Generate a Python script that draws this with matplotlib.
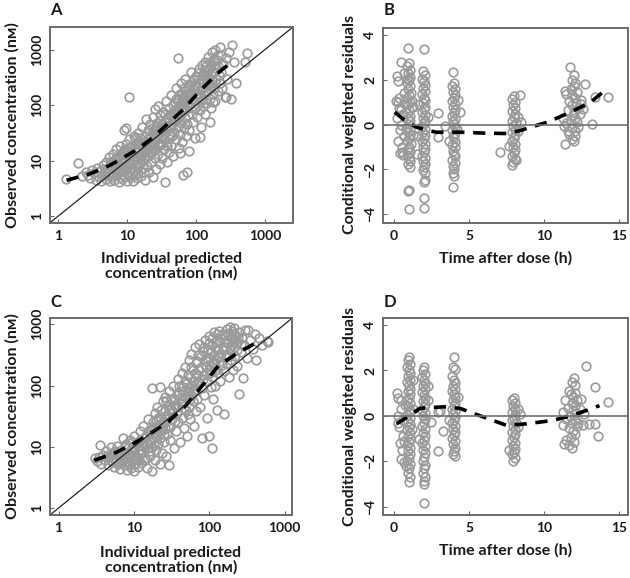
import numpy as np
import matplotlib
matplotlib.use("Agg")
import matplotlib.pyplot as plt
from matplotlib.ticker import FixedLocator, FixedFormatter, NullLocator

plt.rcParams['font.family'] = ['Lato', 'DejaVu Sans']
plt.rcParams['font.weight'] = 'bold'

# ==========================================
# DATA
# ==========================================
# Panel A : observed vs individual predicted (nM), pairs (IPRED, DV)
a_low = [(1.3, 4.6), (1.95, 9.2), (2.2, 5.3), (2.5, 6.2), (2.7, 5.6), (2.9, 4.8), (3.1, 6.8),
         (3.3, 5.9), (3.5, 4.5), (3.6, 7.5), (3.8, 5.2), (4.0, 6.4), (4.2, 4.2), (4.4, 8.3),
         (4.6, 5.5), (4.8, 7.0), (5.0, 4.6), (5.0, 9.5)]
a_5_10 = [(5.3, 6.0), (5.5, 11.5), (5.6, 4.2), (5.8, 7.8), (6.0, 5.1), (6.2, 13), (6.3, 9.0),
          (6.5, 4.4), (6.7, 6.7), (6.9, 16), (7.0, 10.5), (7.2, 5.5), (7.4, 8.2), (7.5, 4.1),
          (7.7, 12), (7.9, 18), (8.0, 6.2), (8.2, 9.6), (8.4, 4.6), (8.6, 14), (8.8, 7.2),
          (9.0, 35), (9.1, 5.2), (9.3, 11), (9.5, 38), (9.6, 20), (9.8, 8.4), (10, 4.3),
          (10, 6.0), (10.3, 15), (10.5, 140), (6.1, 8.0), (7.1, 6.9), (8.3, 11.8), (9.4, 16.5)]
a_10_20 = [(10.6, 9.5), (10.8, 24), (11, 5.0), (11.3, 12.5), (11.5, 7.0), (11.8, 18), (12, 4.2),
           (12.2, 10), (12.5, 28), (12.7, 6.5), (13, 14), (13.3, 8.2), (13.5, 21), (13.8, 4.8),
           (14, 11), (14.3, 32), (14.6, 6.0), (15, 16), (15.3, 9.0), (15.6, 25), (16, 5.2),
           (16.3, 13), (16.6, 40), (17, 7.5), (17.3, 19), (17.6, 10.5), (18, 4.5), (18.3, 28),
           (18.6, 15), (19, 55), (19.3, 8.0), (19.6, 22), (20, 12), (20, 35), (12.4, 16),
           (13.9, 7.4), (15.8, 12), (17.8, 6.3), (11.1, 8.6), (16.8, 22)]
a_20_40 = [(20.5, 6.2), (21, 18), (21.5, 45), (22, 9.5), (22.5, 27), (23, 14), (23.5, 5.0),
           (24, 60), (24.5, 20), (25, 85), (25, 11), (25.5, 35), (26, 7.0), (26.5, 16),
           (27, 48), (27.5, 24), (28, 13), (28.5, 95), (29, 30), (29.5, 8.5), (30, 19), (30, 65),
           (31, 40), (32, 11), (32.5, 26), (33, 75), (34, 16), (35, 50), (35, 4.1), (36, 32),
           (37, 120), (37.5, 9.5), (38, 22), (39, 60), (40, 14), (40, 38), (22.8, 38),
           (26.8, 30), (31.5, 20), (36.5, 42)]
a_40_80 = [(41, 90), (42, 28), (43, 18), (44, 150), (45, 45), (46, 70), (47, 12), (48, 33),
           (49, 110), (50, 55), (51, 24), (52, 200), (53, 80), (54, 40), (55, 700), (55, 130),
           (56, 17), (57, 60), (58, 95), (59, 30), (60, 250), (61, 48), (62, 160), (63, 22),
           (64, 75), (65, 5.4), (66, 110), (67, 38), (68, 300), (69, 58), (70, 180), (71, 28),
           (72, 85), (73, 130), (74, 6.2), (75, 45), (76, 220), (77, 65), (78, 15), (79, 100),
           (58, 13.5), (44, 64), (52, 52), (63, 88)]
a_80_200 = [(80, 35), (82, 150), (84, 400), (86, 70), (88, 260), (90, 50), (92, 120), (94, 190),
            (96, 90), (98, 25), (100, 330), (102, 140), (104, 60), (106, 210), (108, 100),
            (110, 450), (112, 160), (114, 80), (116, 280), (118, 40), (120, 125), (122, 520),
            (124, 200), (126, 95), (128, 350), (130, 150), (133, 70), (136, 600), (139, 240),
            (142, 110), (145, 400), (148, 180), (151, 750), (154, 300), (157, 130), (160, 220),
            (163, 500), (166, 90), (169, 900), (172, 280), (175, 160), (178, 380), (181, 650),
            (184, 200), (187, 120), (190, 1000), (195, 300), (200, 450), (114, 27), (158, 50),
            (178, 112), (92, 230), (130, 260)]
a_high = [(205, 180), (210, 800), (215, 350), (220, 250), (225, 1100), (230, 400), (240, 200),
          (250, 550), (260, 140), (270, 700), (276, 138), (280, 300), (300, 900), (320, 130),
          (330, 1200), (350, 600), (380, 250), (510, 590), (540, 870)]
a_core = [(5.2, 7.2), (5.9, 9.4), (6.4, 5.8), (6.8, 11), (7.3, 7.6), (7.8, 5.0), (8.1, 13),
          (8.7, 9.0), (9.2, 6.8), (9.7, 12.5), (10.2, 8.0), (10.7, 5.6), (11.2, 14.5), (11.9, 9.2),
          (12.6, 11.8), (13.1, 5.6), (13.7, 16.5), (14.4, 8.6), (15.2, 12.8), (15.9, 19),
          (16.5, 9.8), (17.4, 14), (18.2, 11.5), (19.1, 17), (5.5, 5.2), (6.6, 8.6), (8.9, 10.8),
          (10.9, 17.5), (12.9, 25), (14.9, 20.5),
          (20.8, 25), (21.8, 14.5), (22.6, 20), (23.6, 31), (24.6, 16), (25.6, 25), (26.6, 42),
          (27.6, 19), (28.6, 36), (29.6, 52), (31, 28), (32.5, 45), (34, 24), (35.5, 70),
          (37, 38), (38.5, 55), (40, 30), (42, 68), (44, 40), (46, 100), (48, 55), (50, 80),
          (52, 130), (54, 70), (56, 100), (58, 160), (60, 85), (62, 120), (45, 28), (38, 18),
          (64, 140), (66, 200), (68, 90), (72, 150), (76, 110), (80, 240), (84, 170), (88, 130),
          (92, 300), (96, 210), (100, 160), (105, 380), (110, 250), (115, 190), (120, 330),
          (125, 280), (130, 420), (135, 180), (140, 500), (145, 270), (150, 330), (155, 450),
          (160, 600), (165, 250), (170, 400), (180, 520), (190, 260), (200, 650), (210, 500),
          (230, 800)]

# Panel A loess trend
a_trend_x = [1.32, 2.9, 5.6, 12.3, 21.4, 37.4, 65, 114, 200, 347]
a_trend_y = [4.4, 5.8, 8.2, 14.4, 23.5, 44, 83, 180, 362, 637]

# Panel C : observed vs individual predicted (nM)
c_low = [(3.0, 6.5), (3.2, 5.8), (3.4, 6.9), (3.5, 10.5), (3.7, 5.2), (3.9, 7.4), (4.1, 6.0),
         (4.3, 8.6), (4.5, 5.0), (4.7, 6.7), (4.9, 9.8), (5.1, 5.6), (5.3, 7.8), (5.5, 4.6),
         (5.7, 6.3), (5.9, 10.2), (6.0, 8.0)]
c_6_12 = [(6.2, 5.2), (6.4, 7.0), (6.6, 4.3), (6.8, 9.0), (7.0, 6.0), (7.2, 14), (7.4, 5.0),
          (7.6, 7.8), (7.8, 11), (8.0, 4.2), (8.2, 6.6), (8.4, 9.5), (8.6, 5.5), (8.8, 13),
          (9.0, 7.3), (9.2, 4.5), (9.4, 10), (9.6, 6.0), (9.8, 8.4), (10, 4.0), (10, 15),
          (10.3, 5.3), (10.6, 7.0), (10.9, 11.5), (11.2, 4.7), (11.5, 9.0), (11.8, 6.1),
          (12, 18), (12, 13), (8.1, 5.6), (9.1, 8.9), (10.4, 6.2), (7.3, 6.8)]
c_12_30 = [(12.4, 5.5), (12.8, 8.0), (13.2, 22), (13.6, 11), (14, 6.5), (14.4, 15), (14.8, 4.5),
           (15.2, 9.5), (15.6, 28), (16, 12.5), (16.4, 7.2), (16.8, 19), (17.2, 10), (17.4, 92),
           (17.6, 4.0), (18, 25), (18.4, 14), (18.8, 6.0), (19.2, 35), (19.6, 9.0), (20, 17),
           (20.5, 45), (21, 11), (21.5, 23), (22, 5.2), (22.5, 95), (22.5, 14), (23, 30),
           (23.5, 8.0), (24, 55), (24.5, 19), (25, 12), (25.5, 38), (26, 65), (26.5, 25),
           (27, 7.0), (27.5, 16), (28, 48), (28.5, 32), (29, 5.1), (29.5, 80), (30, 21), (30, 13),
           (14.2, 9.8), (16.2, 16), (19.8, 27), (25.8, 20)]
c_30_70 = [(31, 42), (32, 28), (33, 100), (34, 9.5), (35, 60), (36, 18), (37, 36), (38, 130),
           (39, 25), (40, 75), (41, 12), (42, 50), (43, 160), (44, 30), (45, 95), (46, 20),
           (47, 65), (48, 200), (49, 40), (50, 110), (51, 15), (52, 80), (53, 260), (54, 45),
           (55, 140), (56, 28), (57, 70), (58, 330), (59, 100), (60, 55), (61, 180), (62, 22),
           (63, 120), (64, 420), (65, 85), (66, 38), (67, 230), (68, 150), (69, 60), (70, 310),
           (36, 45), (44, 52), (52, 34), (60, 78)]
c_70_150 = [(72, 110), (74, 480), (76, 45), (78, 200), (80, 14), (80, 90), (82, 360), (84, 150),
            (86, 70), (88, 550), (90, 250), (92, 120), (94, 30), (96, 400), (98, 180), (99, 15),
            (100, 650), (102, 280), (104, 95), (106, 210), (108, 9.6), (108, 450), (110, 140),
            (112, 60), (114, 320), (116, 750), (118, 190), (120, 100), (122, 520), (124, 260),
            (126, 40), (128, 380), (130, 160), (133, 780), (136, 300), (140, 120), (143, 600),
            (146, 220), (150, 420), (90, 160), (110, 230)]
c_high = [(155, 34), (158, 170), (162, 680), (166, 300), (170, 850), (174, 230), (178, 500),
          (182, 140), (186, 380), (190, 900), (195, 260), (198, 790), (202, 600), (206, 180),
          (210, 420), (215, 880), (220, 300), (225, 650), (230, 210), (235, 500), (244, 72),
          (250, 750), (260, 350), (270, 600), (280, 135), (290, 450), (300, 820), (320, 280),
          (330, 800), (350, 550), (380, 400), (400, 700), (420, 260), (450, 600), (500, 450),
          (575, 540), (600, 520)]
c_core = [(4.4, 7.2), (5.0, 6.0), (5.6, 8.6), (6.3, 5.6), (6.9, 7.6), (7.5, 9.8), (8.3, 7.8),
          (8.9, 5.0), (9.5, 12), (10.1, 8.8), (10.8, 6.4), (11.4, 12), (12.2, 7.6), (12.9, 10.4),
          (13.5, 14), (14.1, 6.0), (14.7, 11), (15.4, 18), (16.1, 8.5), (17, 13), (17.8, 20),
          (18.6, 10.5), (19.4, 15), (20.2, 22),
          (21, 30), (22, 18), (23, 40), (24, 25), (25, 16), (26, 32), (27, 55), (28, 22),
          (29, 40), (31, 60), (32, 35), (34, 48), (35, 26), (37, 70), (38, 45), (40, 100),
          (42, 62), (44, 80), (46, 42), (48, 120), (50, 70), (52, 150), (54, 95), (56, 60),
          (58, 200), (60, 120), (62, 85), (65, 160), (68, 250), (70, 110),
          (74, 180), (78, 300), (82, 130), (86, 420), (90, 200), (94, 280), (98, 500), (102, 160),
          (106, 350), (110, 600), (114, 240), (118, 420), (122, 180), (126, 700), (130, 300),
          (136, 520), (142, 250), (148, 700), (154, 380), (160, 520), (168, 420), (176, 700),
          (184, 300), (192, 600), (200, 450), (210, 700), (220, 550), (230, 380), (240, 620),
          (260, 480)]

c_trend_x = [2.97, 5.7, 9.5, 15.8, 29, 48, 80, 132, 244, 468]
c_trend_y = [6.0, 8.0, 11, 15.9, 26, 46, 98, 210, 347, 537]

# Panel B : CWRES vs time after dose (h), pairs (time, CWRES)
b_early = [(0.15, 1.05), (0.2, 2.15), (0.25, 1.95), (0.3, -0.75), (0.35, 1.2), (0.2, 0.3),
           (0.4, -1.25), (0.45, 0.7), (0.5, 2.8), (0.55, -1.0), (0.3, 1.0), (0.6, -1.35),
           (0.65, 1.4), (0.5, 0.0), (0.7, -0.5), (0.75, 0.9), (0.4, -0.25), (0.6, 0.45),
           (0.7, 2.3), (0.55, -1.2), (0.35, 0.75), (0.8, -0.2)]
b_1h = [(0.95, 3.43), (1.0, 2.72), (0.9, 2.6), (1.05, 2.45), (0.95, 2.3), (1.1, 2.12), (1.0, 2.0),
        (0.9, 1.85), (1.05, 1.7), (0.95, 1.58), (1.15, 1.42), (1.0, 1.3), (0.9, 1.18), (1.05, 1.02),
        (0.95, 0.9), (1.2, 0.78), (1.0, 0.66), (0.85, 0.52), (1.1, 0.4), (0.95, 0.28), (1.05, 0.15),
        (1.0, 0.03), (0.9, -0.1), (1.1, -0.22), (0.95, -0.35), (1.05, -0.48), (1.0, -0.6),
        (0.9, -0.74), (1.15, -0.86), (1.0, -0.98), (0.95, -1.1), (1.05, -1.24), (0.9, -1.36),
        (1.0, -1.5), (1.1, -1.62), (0.95, -1.75), (1.05, -1.88), (1.3, 0.8), (1.25, -0.45),
        (1.0, -2.9), (0.95, -2.95), (0.98, -3.75), (0.85, 2.05), (1.2, 1.05)]
b_2h = [(2.0, 3.36), (1.95, 2.38), (2.05, 2.22), (1.9, 2.05), (2.0, 1.92), (2.1, 1.78), (1.95, 1.62),
        (2.05, 1.5), (1.9, 1.35), (2.0, 1.2), (2.1, 1.08), (1.95, 0.95), (2.05, 0.8), (2.0, 0.68),
        (1.9, 0.55), (2.1, 0.42), (1.95, 0.3), (2.05, 0.18), (2.0, 0.05), (1.9, -0.08), (2.1, -0.2),
        (1.95, -0.33), (2.05, -0.46), (2.0, -0.58), (1.9, -0.72), (2.1, -0.85), (1.95, -0.98),
        (2.05, -1.1), (2.0, -1.24), (1.9, -1.38), (2.1, -1.5), (1.95, -1.62), (2.05, -1.76),
        (2.0, -1.9), (1.95, -2.02), (2.05, -2.15), (2.05, -2.48), (2.0, -2.55), (1.98, -3.26),
        (2.0, -3.7), (1.55, -1.3), (2.3, 0.35), (1.7, 0.9), (1.6, -0.5)]
b_3h = [(2.95, 0.5), (3.4, -0.08), (2.95, -0.56)]
b_4h = [(3.95, 2.32), (4.0, 1.85), (3.9, 1.72), (4.05, 1.6), (3.95, 1.46), (4.1, 1.32), (4.0, 1.2),
        (3.9, 1.05), (4.05, 0.92), (3.95, 0.8), (4.1, 0.66), (4.0, 0.52), (3.9, 0.4), (4.05, 0.27),
        (3.95, 0.14), (4.0, 0.02), (4.1, -0.1), (3.9, -0.24), (4.05, -0.36), (3.95, -0.5),
        (4.0, -0.62), (4.1, -0.76), (3.9, -0.9), (4.05, -1.02), (3.95, -1.16), (4.0, -1.3),
        (4.1, -1.42), (3.9, -1.56), (4.05, -1.7), (3.95, -1.84), (4.0, -2.0), (3.95, -2.15),
        (4.0, -2.3), (3.95, -2.78), (4.4, 0.55), (3.7, -0.75), (4.25, 1.1), (4.2, -0.2)]
b_8h = [(7.07, -1.23), (8.0, 1.28), (7.9, 1.15), (8.1, 1.02), (7.95, 0.88), (8.05, 0.75), (7.9, 0.6),
        (8.1, 0.45), (8.0, 0.32), (7.85, 0.18), (8.15, 0.05), (7.95, -0.08), (8.05, -0.22),
        (7.9, -0.35), (8.1, -0.48), (8.0, -0.62), (7.85, -0.75), (8.05, -0.88), (7.95, -1.0),
        (8.1, -1.12), (8.0, -1.26), (7.9, -1.4), (8.05, -1.52), (7.95, -1.65), (7.9, -1.78),
        (8.15, -1.6), (8.4, 1.33), (8.3, 0.35), (8.5, 0.1), (7.7, -0.95), (8.25, -0.3)]
b_12h = [(11.75, 2.55), (12.0, 2.2), (11.9, 2.0), (12.1, 1.85), (11.4, 1.5), (11.5, 1.35),
         (12.0, 1.7), (11.8, 1.6), (12.2, 1.45), (11.9, 1.3), (12.05, 1.18), (11.7, 1.05),
         (12.15, 0.95), (11.85, 0.85), (12.3, 0.75), (11.6, 0.65), (12.0, 0.55), (11.95, 0.42),
         (12.1, 0.3), (11.8, 0.2), (11.5, 0.05), (12.2, 0.1), (11.35, -0.08), (11.9, -0.15),
         (12.05, -0.28), (11.7, -0.4), (12.1, -0.52), (11.85, -0.65), (12.0, -0.72), (11.4, -0.86),
         (12.5, 0.9), (12.45, 1.1), (12.73, 1.8), (13.4, 1.21), (14.3, 1.21), (13.2, 0.02),
         (12.6, 0.7), (12.4, 0.45), (11.3, 0.3), (11.6, -0.3), (12.3, -0.1)]

b_trend_t = [0.05, 0.6, 1.5, 2.8, 4.4, 6.0, 7.5, 8.4, 9.1, 10.2, 11.5, 13.1, 14.2]
b_trend_r = [0.55, 0.25, -0.12, -0.34, -0.34, -0.38, -0.4, -0.27, -0.12, 0.1, 0.47, 0.99, 1.6]

# Panel D : CWRES vs time after dose (h)
d_early = [(0.2, 1.0), (0.3, 0.8), (0.45, 0.7), (0.25, 0.0), (0.5, 0.3), (0.35, -0.5),
           (0.6, -0.9), (0.4, -1.2), (0.55, -1.5), (0.7, -2.05), (0.8, -2.2), (0.65, -1.1),
           (0.3, -0.3), (0.75, 0.5), (0.5, -1.9), (0.6, -0.2)]
d_1h = [(1.0, 2.58), (0.95, 2.45), (1.05, 2.3), (0.9, 2.15), (1.0, 2.02), (1.1, 1.88), (0.95, 1.75),
        (1.05, 1.6), (0.9, 1.48), (1.0, 1.35), (1.1, 1.2), (0.95, 1.08), (1.05, 0.95), (1.0, 0.8),
        (0.9, 0.68), (1.1, 0.55), (0.95, 0.42), (1.05, 0.28), (1.0, 0.15), (0.9, 0.02), (1.1, -0.1),
        (0.95, -0.24), (1.05, -0.36), (1.0, -0.5), (0.9, -0.62), (1.1, -0.76), (0.95, -0.9),
        (1.05, -1.02), (1.0, -1.16), (0.9, -1.3), (1.1, -1.42), (0.95, -1.56), (1.05, -1.7),
        (1.0, -1.84), (0.9, -1.98), (1.05, -2.12), (1.0, -2.3), (0.95, -2.5), (1.05, -2.7),
        (1.0, -2.92), (1.3, 1.6), (1.25, 0.3), (1.2, -0.6)]
d_2h = [(2.0, 2.15), (1.95, 2.0), (2.05, 1.85), (1.9, 1.72), (2.0, 1.58), (2.1, 1.45), (1.95, 1.3),
        (2.05, 1.18), (1.9, 1.05), (2.0, 0.92), (2.1, 0.78), (1.95, 0.65), (2.05, 0.52), (2.0, 0.38),
        (1.9, 0.25), (2.1, 0.12), (1.95, -0.02), (2.05, -0.15), (2.0, -0.3), (1.9, -0.45),
        (2.1, -0.6), (1.95, -0.75), (2.05, -0.9), (2.0, -1.05), (1.9, -1.2), (2.1, -1.35),
        (1.95, -1.5), (2.05, -1.65), (2.0, -1.8), (1.95, -1.98), (2.05, -2.15), (2.0, -2.32),
        (1.95, -2.5), (2.05, -2.68), (2.0, -2.85), (1.98, -3.0), (2.0, -3.86), (2.3, 0.7),
        (2.45, -0.25), (1.65, -1.0), (2.25, 1.3)]
d_3h = [(2.96, 0.15), (2.96, -1.54), (3.3, -0.65), (3.1, 0.2)]
d_4h = [(4.0, 2.58), (3.95, 2.15), (4.05, 2.05), (3.9, 1.75), (4.0, 1.6), (4.1, 1.45), (3.95, 1.32),
        (4.05, 1.2), (3.9, 1.08), (4.0, 0.95), (4.1, 0.82), (3.95, 0.7), (4.05, 0.58), (4.0, 0.45),
        (3.9, 0.32), (4.1, 0.2), (3.95, 0.08), (4.05, -0.05), (4.0, -0.18), (3.9, -0.32),
        (4.1, -0.45), (3.95, -0.58), (4.05, -0.72), (4.0, -0.85), (3.9, -0.98), (4.1, -1.12),
        (3.95, -1.25), (4.05, -1.4), (4.0, -1.55), (3.95, -1.7), (4.05, -1.78), (4.3, 0.85),
        (3.7, -0.2)]
d_8h = [(8.0, 0.8), (7.9, 0.68), (8.1, 0.55), (7.95, 0.42), (8.05, 0.3), (7.9, 0.18), (8.1, 0.05),
        (8.0, -0.08), (7.85, -0.2), (8.15, -0.32), (7.95, -0.45), (8.05, -0.58), (7.9, -0.7),
        (8.1, -0.82), (8.0, -0.95), (7.85, -1.08), (8.05, -1.2), (7.95, -1.32), (8.1, -1.45),
        (8.0, -1.58), (7.9, -1.7), (8.05, -1.85), (7.95, -1.98), (7.7, -1.5), (8.3, 0.3),
        (8.4, 0.1), (8.25, -0.5)]
d_12h = [(12.0, 1.68), (11.9, 1.5), (12.1, 1.35), (11.7, 1.1), (11.8, 0.95), (12.05, 1.02),
         (11.4, 0.7), (11.95, 0.82), (12.2, 0.7), (11.85, 0.58), (12.1, 0.45), (11.6, 0.35),
         (11.95, 0.25), (12.15, 0.12), (11.75, 0.0), (11.5, -0.12), (12.05, -0.2), (11.85, -0.32),
         (11.3, -0.4), (12.2, -0.45), (11.65, -0.55), (11.95, -0.68), (12.1, -0.8), (11.8, -0.92),
         (11.5, -1.05), (12.0, -1.15), (11.7, -1.28), (11.35, -1.25), (11.9, -1.4), (12.3, -0.3),
         (12.5, 0.75), (12.4, 0.3), (12.8, 2.18), (13.4, 1.25), (14.3, 0.63), (13.6, -0.87),
         (13.0, -0.35), (13.4, -0.35), (12.6, -0.4), (12.7, 0.1), (11.25, 0.15)]

d_trend_t = [0.18, 1.0, 1.73, 3.29, 4.4, 5.96, 7.51, 8.84, 10.6, 11.96, 13.7]
d_trend_r = [-0.35, 0.0, 0.33, 0.4, 0.33, -0.05, -0.42, -0.35, -0.2, 0.03, 0.45]

conc_ticks = [1, 10, 100, 1000]
time_ticks = [0, 5, 10, 15]
res_ticks = [-4, -2, 0, 2, 4]

# ==========================================
# STYLE
# ==========================================
W, H = 630, 578
PT_GREY = '#9a9a9a'
FRAME = '#6a6a6a'
DASH = (0, (3.4, 2.4))
conc_label = 'Observed concentration (n\u1d0d)'
ipred_label = 'Individual predicted\nconcentration (n\u1d0d)'
cwres_label = 'Conditional weighted residuals'
time_label = 'Time after dose (h)'


def rect(x0, y0, x1, y1):
    # pixel box -> figure fraction
    return [x0 / W, 1 - y1 / H, (x1 - x0) / W, (y1 - y0) / H]


def scatter(ax, groups):
    pts = np.array([p for g in groups for p in g])
    ax.plot(pts[:, 0], pts[:, 1], linestyle='none', marker='o', markersize=6.2,
            markerfacecolor='none', markeredgecolor=PT_GREY, markeredgewidth=1.2)


def frame(ax):
    for s in ax.spines.values():
        s.set_color(FRAME)
        s.set_linewidth(1.4)
    ax.tick_params(direction='in', length=3, width=0.8, color=FRAME, labelsize=10,
                   labelcolor='#1a1a1a', pad=5)
    for lab in ax.get_yticklabels():
        lab.set_rotation(90)
        lab.set_va('center')
        lab.set_fontweight('bold')
    for lab in ax.get_xticklabels():
        lab.set_fontweight('bold')


def conc_axes(ax, lim):
    ax.set_xscale('log')
    ax.set_yscale('log')
    ax.set_xlim(lim)
    ax.set_ylim(lim)
    for axis in (ax.xaxis, ax.yaxis):
        axis.set_major_locator(FixedLocator(conc_ticks))
        axis.set_major_formatter(FixedFormatter([str(t) for t in conc_ticks]))
        axis.set_minor_locator(NullLocator())
    ax.plot(lim, lim, color='#222222', linewidth=0.9)
    frame(ax)


def res_axes(ax):
    ax.set_xlim(-0.71, 15.6)
    ax.set_ylim(-4.37, 4.3)
    ax.set_xticks(time_ticks)
    ax.set_yticks(res_ticks)
    ax.axhline(0, color='#707070', linewidth=1.2)
    frame(ax)


fig = plt.figure(figsize=(6.3, 5.78), dpi=100)
fig.patch.set_facecolor('white')

axA = fig.add_axes(rect(50, 27, 293, 222.7))
axB = fig.add_axes(rect(383.3, 28, 628, 222.7))
axC = fig.add_axes(rect(50, 318.3, 292, 515))
axD = fig.add_axes(rect(383.3, 318.3, 628, 515))

# A
scatter(axA, [a_low, a_5_10, a_10_20, a_20_40, a_40_80, a_80_200, a_high, a_core])
axA.plot(a_trend_x, a_trend_y, color='black', linewidth=2.6, linestyle=DASH)
conc_axes(axA, (0.76, 2550))

# B
scatter(axB, [b_early, b_1h, b_2h, b_3h, b_4h, b_8h, b_12h])
axB.plot(b_trend_t, b_trend_r, color='black', linewidth=2.6, linestyle=DASH)
res_axes(axB)

# C
scatter(axC, [c_low, c_6_12, c_12_30, c_30_70, c_70_150, c_high, c_core])
axC.plot(c_trend_x, c_trend_y, color='black', linewidth=2.6, linestyle=DASH)
conc_axes(axC, (0.77, 1250))

# D
scatter(axD, [d_early, d_1h, d_2h, d_3h, d_4h, d_8h, d_12h])
axD.plot(d_trend_t, d_trend_r, color='black', linewidth=2.6, linestyle=DASH)
res_axes(axD)


# labels placed in pixel coordinates
def ftext(x, y, s, **kw):
    fig.text(x / W, 1 - y / H, s, fontweight='bold', color='#1a1a1a', **kw)


ftext(50, 10, 'A', fontsize=12, ha='left', va='center')
ftext(384, 10, 'B', fontsize=12, ha='left', va='center')
ftext(50, 302, 'C', fontsize=12, ha='left', va='center')
ftext(384, 302, 'D', fontsize=12, ha='left', va='center')

for yc in (125, 416.5):
    ftext(12, yc, conc_label, fontsize=11.5, rotation=90, ha='center', va='center')
    ftext(350, yc, cwres_label, fontsize=11.5, rotation=90, ha='center', va='center')

ftext(171.5, 266.5, ipred_label, fontsize=11.5, ha='center', va='center', linespacing=1.0)
ftext(171, 560, ipred_label, fontsize=11.5, ha='center', va='center', linespacing=1.0)
ftext(506, 258, time_label, fontsize=11.5, ha='center', va='center')
ftext(506, 550, time_label, fontsize=11.5, ha='center', va='center')

fig.savefig('out.png', dpi=100)
